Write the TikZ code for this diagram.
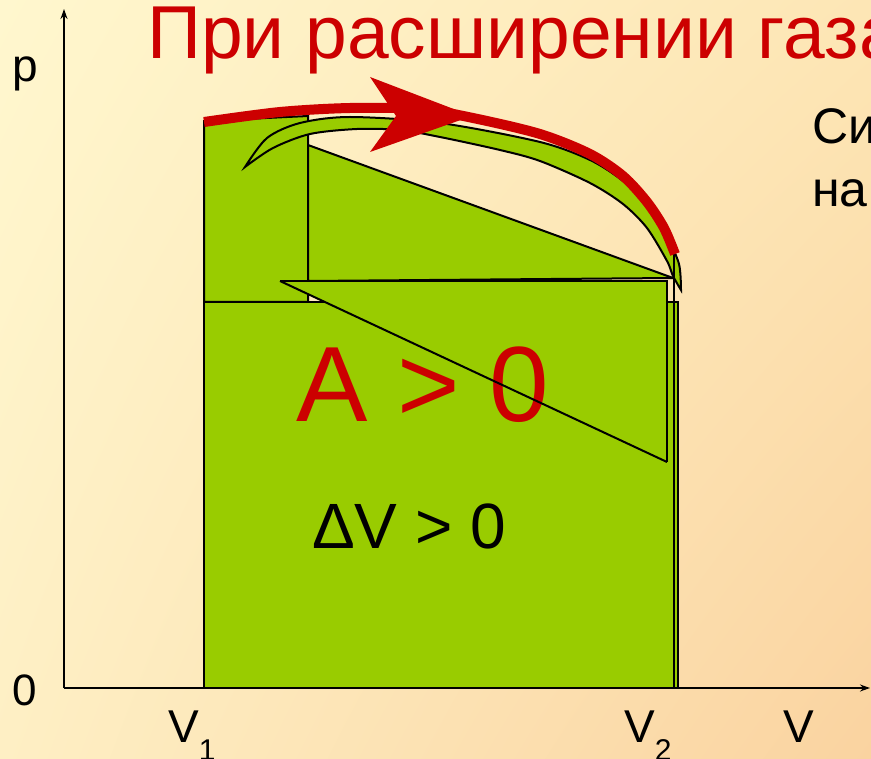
\documentclass[tikz,border=0pt]{standalone}
\usepackage{fontspec}
\setmainfont{Liberation Sans}
\usetikzlibrary{arrows.meta,shadings}
\definecolor{leaf}{HTML}{99CC00}
\definecolor{brick}{HTML}{CC0000}
\definecolor{bgtl}{HTML}{FFF7CE}
\definecolor{bgtr}{HTML}{FDE6B5}
\definecolor{bgbl}{HTML}{FEEFC4}
\definecolor{bgbr}{HTML}{FAD3A0}
\newcommand{\vsub}[1]{\raisebox{-18pt}{\fontsize{30}{30}\selectfont #1}}

\begin{document}
\begin{tikzpicture}[x=1pt, y=-1pt,
    area/.style={fill=leaf, draw=black, line width=2pt},
    axis/.style={draw=black, line width=2pt, -{Stealth[length=10pt, width=7pt]}},
    redline/.style={draw=brick, line width=10pt},
    lbl/.style={anchor=base west, inner sep=0pt, font=\fontsize{46}{55}\selectfont}
]
\useasboundingbox (0,0) rectangle (871,759);
\clip (0,0) rectangle (871,759);

% Background
\shade[upper left=bgtl, upper right=bgtr, lower left=bgbl, lower right=bgbr]
    (0,0) rectangle (871,759);

% Work area under the curve
\filldraw[area] (204,302) rectangle (678,688);
\filldraw[area] (204,302) -- (204,121) -- (308,116) -- (308,302) -- cycle;
\filldraw[area] (308,145) -- (673,278) -- (308,281) -- cycle;
\fill[leaf] (280,281) -- (667,281) -- (667,462) -- cycle;
\draw[black, line width=2pt] (280,281) -- (667,281) -- (667,462);

% Curved band
\filldraw[area] plot[smooth] coordinates {(245,167) (267,138) (300,123) (350,117)
    (440,123) (540,142) (590,160) (623,181) (647,205) (667,237) (679,264) (681,290)}
    -- plot[smooth] coordinates {(681,290) (673,276) (667,261) (647,228) (623,204)
    (590,183) (540,161) (500,150) (440,137) (400,130) (357,129) (310,134) (273,148)
    (245,167)} -- cycle;
\draw[black, line width=2pt] (674,252) -- (674,688);

% Expansion arrow
\draw[redline] plot[smooth] coordinates {(204,122) (280,112) (350,108) (420,109)
    (473,118) (540,134) (590,154) (623,176) (647,202) (664,228) (675,254)};
\fill[brick] (370,77) -- (472,116) -- (370,152) -- (396,116) -- cycle;

% Labels
\node[lbl, text=brick, font=\fontsize{107}{120}\selectfont] (work) at (296,422) {A > 0};
\draw[black, line width=2pt] (280,281) -- (667,462);
\node[lbl, font=\fontsize{64}{70}\selectfont] (dv) at (312,548) {ΔV > 0};
\node[lbl, text=brick, font=\fontsize{75}{84}\selectfont] (title) at (147,59) {При расширении газа};
\node[lbl, font=\fontsize{50}{60}\selectfont] (forceA) at (812,144) {Си};
\node[lbl, font=\fontsize{50}{60}\selectfont] (forceB) at (812,207) {на};

% Axes
\coordinate (O) at (64,688);
\coordinate (ptop) at (64,9);
\coordinate (vend) at (870,688);
\draw[axis] (O) -- (ptop);
\draw[axis] (O) -- (vend);
\node[lbl] (plabel) at (12,82) {p};
\node[lbl, font=\fontsize{44}{50}\selectfont] (zero) at (12,705) {0};
\node[lbl] (vone) at (168,742) {V\vsub{1}};
\node[lbl] (vtwo) at (624,742) {V\vsub{2}};
\node[lbl] (vaxis) at (783,742) {V};

\end{tikzpicture}
\end{document}
